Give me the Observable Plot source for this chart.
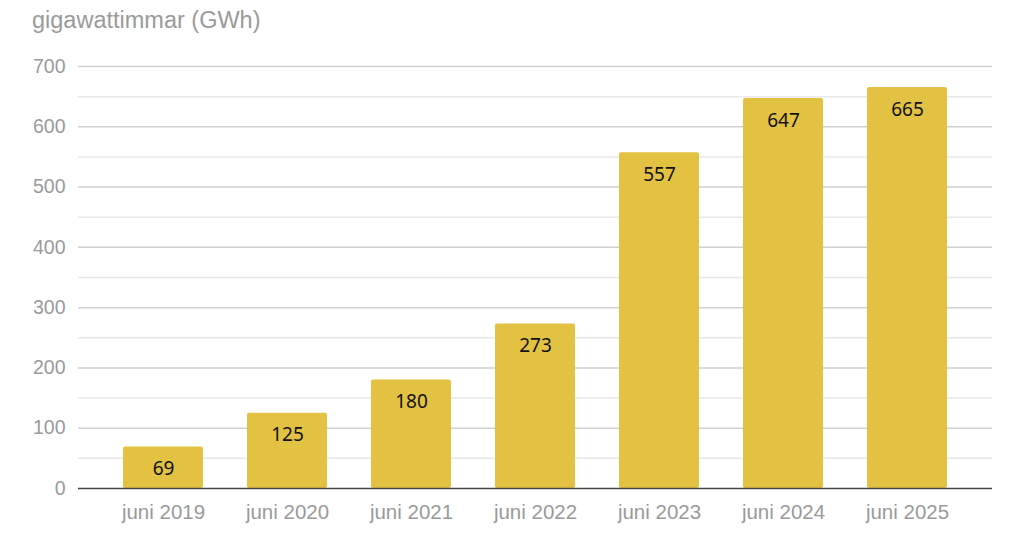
<!DOCTYPE html>
<html>
<head>
<meta charset="utf-8">
<script src="https://cdn.jsdelivr.net/npm/d3@7"></script>
<script src="https://cdn.jsdelivr.net/npm/@observablehq/plot@0.6"></script>
<style>
  html, body { margin: 0; padding: 0; background: #fff; }
  #title { height: 40px; line-height: 40px; padding-left: 32px; font-family: "Liberation Sans", Arial, sans-serif; font-size: 23.5px; color: #9a9a9a; }
</style>
</head>
<body>
<div id="title">gigawattimmar (GWh)</div>
<div id="chart"></div>
<script>
const categories = ["juni 2019", "juni 2020", "juni 2021", "juni 2022", "juni 2023", "juni 2024", "juni 2025"];
const values = [69, 125, 180, 273, 557, 647, 665];
const majorTicks = [0, 100, 200, 300, 400, 500, 600, 700];
const minorTicks = [50, 150, 250, 350, 450, 550, 650];

const data = categories.map((c, i) => ({category: c, value: values[i]}));

const chart = Plot.plot({
  width: 1024,
  height: 514,
  marginLeft: 78,
  marginRight: 32,
  marginTop: 26,
  marginBottom: 66,
  style: {fontFamily: "Liberation Sans, Arial, sans-serif", fontSize: "19px", color: "#9a9a9a", background: "#fff"},
  x: {domain: categories, paddingInner: 0.355, paddingOuter: 0.357, label: null},
  y: {domain: [0, 700], label: null},
  marks: [
    Plot.ruleY(minorTicks, {stroke: "#e8e8e8", strokeWidth: 1.5}),
    Plot.ruleY(majorTicks.filter(d => d > 0), {stroke: "#d0d0d0", strokeWidth: 1.5}),
    Plot.barY(data, {x: "category", y: "value", fill: "#e3c142", rx: 2}),
    Plot.ruleY([0], {stroke: "#444", strokeWidth: 1.5}),
    Plot.text(data, {x: "category", y: "value", text: d => String(d.value), dy: 22, fill: "#111", fontSize: 19, fontFamily: "Noto Sans, sans-serif"}),
    Plot.axisX({tickSize: 0, tickPadding: 16, fill: "#9a9a9a", fontSize: 20.5}),
    Plot.axisY({ticks: majorTicks, tickSize: 0, tickPadding: 13, fill: "#9a9a9a", fontSize: 19.5})
  ]
});
document.getElementById("chart").appendChild(chart);
</script>
</body>
</html>
